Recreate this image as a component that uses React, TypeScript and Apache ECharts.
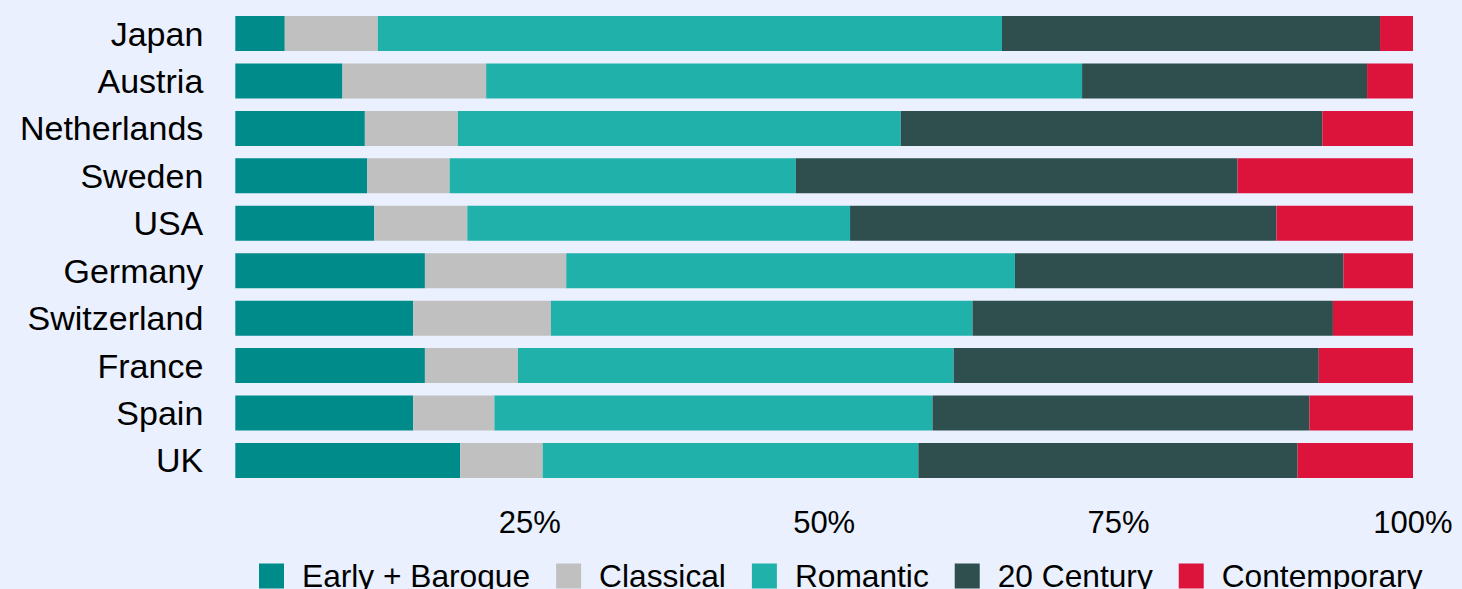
import React, { useEffect, useRef } from "react";
import * as echarts from "echarts";

const categories = ["Japan", "Austria", "Netherlands", "Sweden", "USA", "Germany", "Switzerland", "France", "Spain", "UK"];
const seriesNames = ["Early + Baroque", "Classical", "Romantic", "20 Century", "Contemporary"];
const earlyBaroque = [4.2, 9.1, 11.0, 11.2, 11.8, 16.1, 15.1, 16.1, 15.1, 19.1];
const classical = [7.9, 12.2, 7.9, 7.0, 7.9, 12.0, 11.7, 7.9, 6.9, 7.0];
const romantic = [53.0, 50.6, 37.6, 29.4, 32.5, 38.1, 35.8, 37.0, 37.2, 31.9];
const century20 = [32.1, 24.2, 35.8, 37.5, 36.2, 27.9, 30.6, 31.0, 32.0, 32.2];
const contemporary = [2.8, 3.9, 7.7, 14.9, 11.6, 5.9, 6.8, 8.0, 8.8, 9.8];
const colors = ["#008b8b", "#c0c0c0", "#20b2aa", "#2f4f4f", "#dc143c"];

const FONT = "'Liberation Sans', Arial, Helvetica, sans-serif";

export default function App() {
  const ref = useRef<HTMLDivElement>(null);
  useEffect(() => {
    if (!ref.current) return;
    const chart = echarts.init(ref.current, undefined, { renderer: "svg" });
    const values = [earlyBaroque, classical, romantic, century20, contemporary];
    chart.setOption({
      animation: false,
      backgroundColor: "#eaf0fd",
      textStyle: { fontFamily: FONT },
      grid: { left: 235.3, right: 49, top: 9.8, bottom: 104.8, containLabel: false },
      legend: {
        data: seriesNames,
        left: 259,
        top: 560,
        padding: 0,
        itemGap: 26,
        itemWidth: 25,
        itemHeight: 25,
        icon: "rect",
        textStyle: { fontFamily: FONT, fontSize: 31.7, color: "#000", padding: [0, 0, 0, 13] },
      },
      xAxis: {
        type: "value",
        min: 0,
        max: 100,
        interval: 25,
        axisLine: { show: false },
        axisTick: { show: false },
        splitLine: { show: false },
        axisLabel: {
          fontFamily: FONT,
          fontSize: 31,
          color: "#000",
          margin: 23,
          formatter: (v: number) => (v === 0 ? "" : v + "%"),
        },
      },
      yAxis: {
        type: "category",
        data: categories,
        inverse: true,
        axisLine: { show: false },
        axisTick: { show: false },
        splitLine: { show: false },
        axisLabel: { fontFamily: FONT, fontSize: 34, color: "#000", margin: 32 },
      },
      series: seriesNames.map((name, i) => ({
        name,
        type: "bar",
        stack: "total",
        barWidth: 35,
        data: values[i],
        itemStyle: { color: colors[i] },
        emphasis: { disabled: true },
      })),
    });
    return () => chart.dispose();
  }, []);
  return (
    <div
      ref={ref}
      style={{ position: "fixed", left: 0, top: 0, width: 1462, height: 589 }}
    />
  );
}
